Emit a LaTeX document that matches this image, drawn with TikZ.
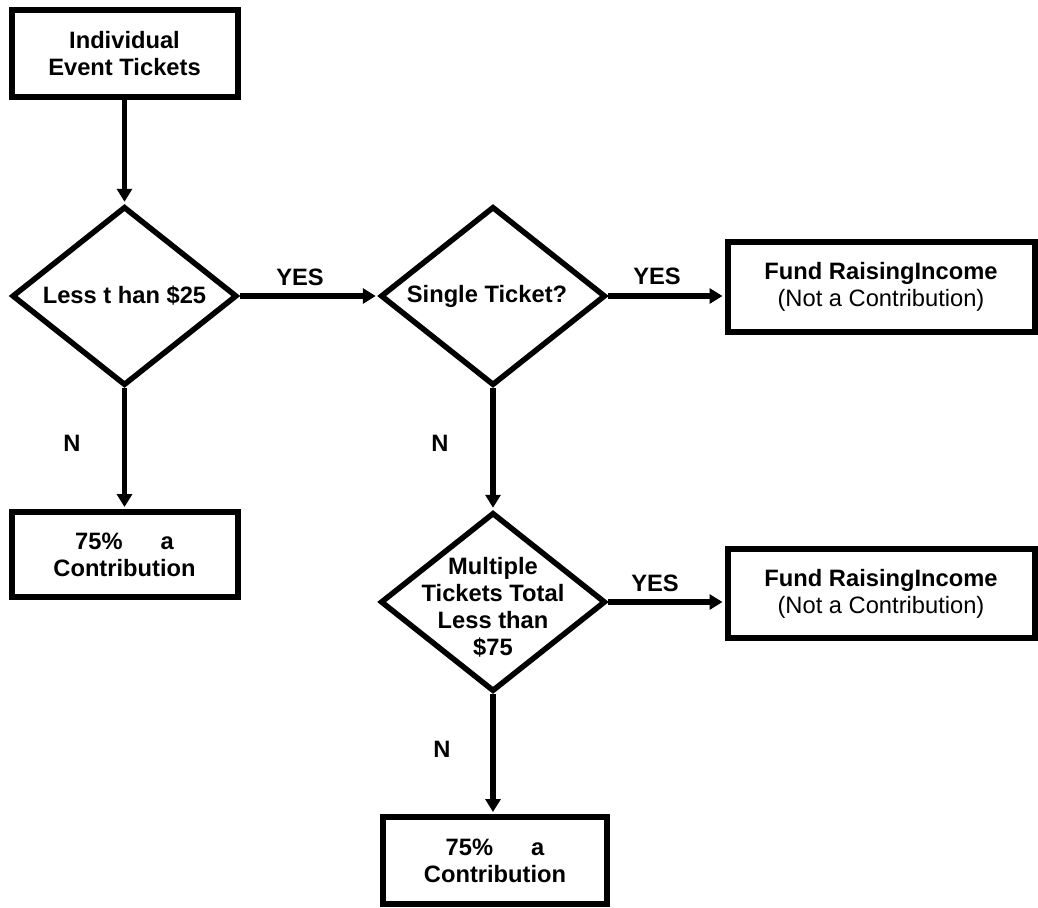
\documentclass[tikz,border=0pt]{standalone}
\usepackage{fontspec}
\setmainfont{Liberation Sans}
\usetikzlibrary{arrows.meta,shapes.geometric}
\newcommand\flowfont{\fontsize{23.7}{27}\selectfont}

\begin{document}
\begin{tikzpicture}[x=1pt,y=-1pt,>={Triangle[length=13pt,width=15pt]},
  box/.style={draw,line width=6pt,inner sep=0pt,align=center,font=\flowfont\bfseries},
  decision/.style={draw,diamond,line width=5.5pt,inner sep=0pt,minimum width=225pt,minimum height=179pt},
  flow/.style={->,line width=5.5pt,shorten >=2pt},
  tag/.style={align=center,font=\flowfont\bfseries}]
\useasboundingbox (0,0) rectangle (1038,907);
% boxes and decisions
\node[box,minimum width=226pt,minimum height=87pt] (event) at (124.5,53.5) {Individual\\Event Tickets};
\node[decision] (less) at (124.5,296) {};
\node[tag] (lesstext) at (less) {Less t han \$25};
\node[decision] (single) at (493,296) {};
\node[tag] (singletext) at (487,296) {Single Ticket?};
\node[box,minimum width=307pt,minimum height=90pt] (fundA) at (881,287) {Fund RaisingIncome\\\mdseries(Not a Contribution)};
\node[box,minimum width=226pt,minimum height=85pt] (contribA) at (124.5,554.5) {75\%\hspace{1.6em}a\\Contribution};
\node[decision] (multi) at (493,602) {};
\node[tag] (multitext) at (493,607) {Multiple\\Tickets Total\\Less than\\\$75};
\node[box,minimum width=307pt,minimum height=89pt] (fundB) at (881,593.5) {Fund RaisingIncome\\\mdseries(Not a Contribution)};
\node[box,minimum width=224pt,minimum height=87pt] (contribB) at (495,860.5) {75\%\hspace{1.6em}a\\Contribution};
% connectors
\draw[flow] (event.south) -- (less.north);
\draw[flow] (less.east) -- (single.west);
\draw[flow] (single.east) -- (single.east -| fundA.west);
\draw[flow] (less.south) -- (contribA.north);
\draw[flow] (single.south) -- (multi.north);
\draw[flow] (multi.east) -- (multi.east -| fundB.west);
\draw[flow] (multi.south) -- (multi.south |- contribB.north);
% branch labels
\node[tag] (yesA) at (300,277) {YES};
\node[tag] (yesB) at (657,276) {YES};
\node[tag] (yesC) at (655,583) {YES};
\node[tag] (noA) at (72,443) {N};
\node[tag] (noB) at (440,443) {N};
\node[tag] (noC) at (442,749) {N};
\end{tikzpicture}
\end{document}
